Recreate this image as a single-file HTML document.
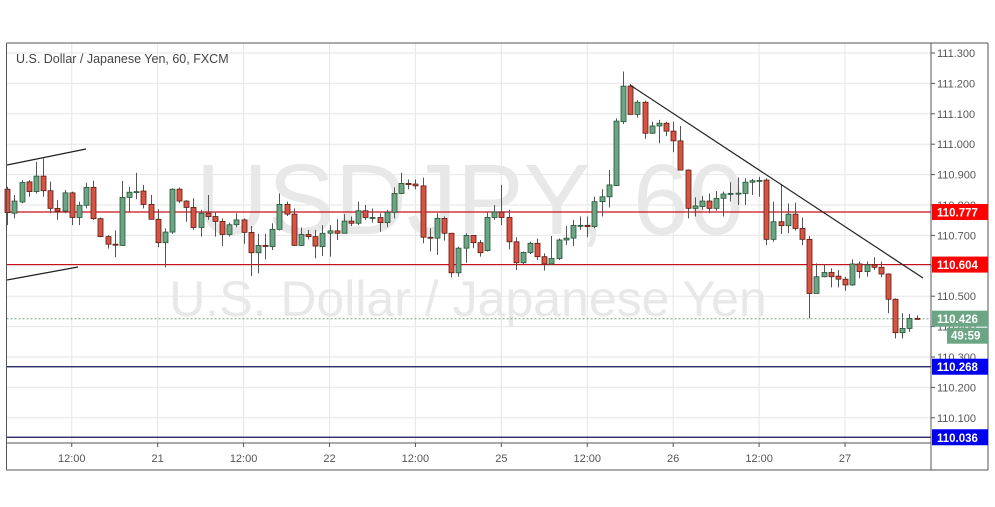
<!DOCTYPE html>
<html><head><meta charset="utf-8"><style>
html,body{margin:0;padding:0;background:#fff;width:995px;height:507px;overflow:hidden}
svg{display:block;font-family:"Liberation Sans",sans-serif}
</style></head><body>
<svg id="chart" width="995" height="507" viewBox="0 0 995 507">
<g id="grid"></g>
<g id="wm">
<text x="470" y="234" font-size="100" fill="#e8e8e8" text-anchor="middle">USDJPY, 60</text>
<text x="468" y="316" font-size="50" fill="#e8e8e8" text-anchor="middle">U.S. Dollar / Japanese Yen</text>
</g>
<g id="levels"></g>
<g id="candles"></g>
<g id="draw"></g>
<g id="axes"></g>
<text x="16" y="63" font-size="12.5" fill="#444">U.S. Dollar / Japanese Yen, 60, FXCM</text>
</svg>
<script>
const opens  =[110.852,110.773,110.810,110.876,110.844,110.895,110.847,110.789,110.780,110.840,110.759,110.799,110.858,110.755,110.696,110.671,110.667,110.825,110.842,110.846,110.802,110.753,110.676,110.711,110.852,110.813,110.792,110.726,110.773,110.762,110.746,110.703,110.735,110.751,110.710,110.643,110.667,110.663,110.720,110.802,110.770,110.667,110.703,110.696,110.663,110.707,110.715,110.707,110.747,110.740,110.781,110.759,110.759,110.742,110.776,110.838,110.871,110.869,110.863,110.694,110.691,110.756,110.707,110.577,110.658,110.700,110.676,110.650,110.759,110.777,110.759,110.679,110.610,110.644,110.674,110.630,110.606,110.624,110.685,110.691,110.733,110.733,110.729,110.811,110.827,110.864,111.074,111.191,111.098,111.138,111.036,111.060,111.069,111.043,111.011,110.915,110.789,110.795,110.813,110.789,110.822,110.838,110.838,110.838,110.875,110.880,110.882,110.687,110.745,110.732,110.770,110.723,110.687,110.509,110.564,110.578,110.566,110.556,110.537,110.606,110.581,110.603,110.595,110.573,110.490,110.380,110.394,110.427];
const closes =[110.775,110.813,110.874,110.844,110.895,110.847,110.789,110.780,110.840,110.759,110.799,110.858,110.755,110.696,110.671,110.670,110.825,110.842,110.844,110.802,110.753,110.676,110.711,110.852,110.813,110.792,110.726,110.773,110.762,110.746,110.703,110.735,110.751,110.710,110.643,110.667,110.666,110.720,110.802,110.770,110.667,110.703,110.696,110.665,110.707,110.715,110.707,110.747,110.740,110.781,110.759,110.759,110.742,110.776,110.838,110.871,110.867,110.863,110.694,110.691,110.756,110.707,110.577,110.658,110.700,110.676,110.643,110.759,110.777,110.759,110.679,110.610,110.644,110.674,110.630,110.606,110.624,110.685,110.691,110.733,110.733,110.729,110.811,110.827,110.866,111.076,111.191,111.098,111.138,111.036,111.060,111.069,111.043,111.011,110.915,110.789,110.797,110.813,110.789,110.822,110.836,110.838,110.839,110.875,110.880,110.881,110.687,110.745,110.732,110.770,110.723,110.687,110.509,110.564,110.578,110.564,110.556,110.537,110.606,110.581,110.603,110.595,110.573,110.490,110.380,110.394,110.427,110.426];
const highs  =[110.860,110.833,110.882,110.882,110.942,110.953,110.877,110.816,110.849,110.844,110.811,110.873,110.880,110.759,110.701,110.716,110.879,110.860,110.906,110.866,110.833,110.786,110.723,110.855,110.857,110.816,110.822,110.784,110.833,110.778,110.756,110.742,110.773,110.756,110.731,110.705,110.705,110.740,110.838,110.811,110.789,110.726,110.718,110.718,110.734,110.734,110.753,110.770,110.762,110.811,110.800,110.789,110.773,110.784,110.858,110.906,110.884,110.884,110.890,110.723,110.773,110.762,110.707,110.663,110.707,110.701,110.685,110.778,110.800,110.866,110.784,110.694,110.647,110.679,110.690,110.641,110.698,110.690,110.731,110.751,110.762,110.762,110.827,110.852,110.915,111.085,111.239,111.198,111.145,111.143,111.074,111.080,111.074,111.074,111.060,110.917,110.825,110.830,110.838,110.846,110.844,110.875,110.891,110.888,110.886,110.893,110.888,110.811,110.869,110.805,110.808,110.759,110.698,110.608,110.606,110.592,110.586,110.564,110.621,110.614,110.614,110.628,110.614,110.575,110.493,110.444,110.441,110.437];
const lows   =[110.734,110.756,110.806,110.827,110.838,110.827,110.773,110.751,110.773,110.734,110.734,110.789,110.751,110.694,110.657,110.628,110.665,110.778,110.819,110.789,110.753,110.661,110.595,110.705,110.806,110.745,110.718,110.696,110.751,110.696,110.665,110.696,110.727,110.672,110.566,110.575,110.621,110.652,110.716,110.764,110.665,110.665,110.687,110.625,110.632,110.630,110.685,110.707,110.731,110.734,110.751,110.742,110.712,110.727,110.756,110.836,110.852,110.852,110.674,110.647,110.636,110.683,110.562,110.564,110.610,110.658,110.630,110.647,110.751,110.734,110.654,110.586,110.606,110.639,110.619,110.584,110.603,110.619,110.668,110.665,110.718,110.694,110.723,110.762,110.792,110.863,111.066,111.098,111.088,111.018,111.034,111.003,111.027,110.974,110.915,110.756,110.762,110.784,110.773,110.781,110.762,110.811,110.800,110.800,110.833,110.827,110.668,110.679,110.704,110.707,110.716,110.668,110.427,110.509,110.562,110.529,110.529,110.518,110.534,110.559,110.564,110.586,110.562,110.444,110.361,110.361,110.383,110.426];
const priceTicks=[111.3,111.2,111.1,111.0,110.9,110.8,110.7,110.6,110.5,110.4,110.3,110.2,110.1];
const timeTickIdx=[9,21,33,45,57,69,81,93,105,117];
const timeTickLabels=["12:00","21","12:00","22","12:00","25","12:00","26","12:00","27"];
const redLevels=[110.777,110.604];
const blueLevels=[110.268,110.036];
const lastPrice=110.426;

const NS="http://www.w3.org/2000/svg";
const L=6.5,R=931,T=43,B=443;
function y(p){return 53+(111.3-p)*304;}
function x(i){return 7.3+i*7.16;}
function mk(parent,tag,attrs){const e=document.createElementNS(NS,tag);for(const k in attrs)e.setAttribute(k,attrs[k]);document.getElementById(parent).appendChild(e);return e;}

// grid
priceTicks.forEach(p=>{const e=mk('grid','line',{x1:L,x2:R,y1:y(p),y2:y(p),stroke:'#e6e6e6','stroke-width':1});

});
timeTickIdx.forEach(i=>{const e=mk('grid','line',{x1:x(i),x2:x(i),y1:T,y2:B,stroke:'#e6e6e6','stroke-width':1});

});

// levels
redLevels.forEach(p=>{const e=mk('levels','line',{x1:L,x2:R,y1:y(p),y2:y(p),stroke:'#c8101a','stroke-width':1.2});

});
blueLevels.forEach(p=>{const e=mk('levels','line',{x1:L,x2:R,y1:y(p),y2:y(p),stroke:'#10105a','stroke-width':1.2});

});
{const e=mk('levels','line',{x1:L,x2:R,y1:y(lastPrice),y2:y(lastPrice),stroke:'#6ba583','stroke-width':1,'stroke-dasharray':'2,2'});

}

// candles
for(let i=0;i<opens.length;i++){
 const o=opens[i],c=closes[i],up=c>=o;
 const fill=up?'#6ba583':'#d75442',stroke=up?'#225437':'#5b1a13';
 const cx=Math.round(x(i))+0.5;
 const w=mk('candles','line',{x1:cx,x2:cx,y1:y(highs[i]),y2:y(lows[i]),stroke:'#555','stroke-width':1});
 
 
 const top=y(Math.max(o,c)),h=Math.max(1,y(Math.min(o,c))-top);
 const b=mk('candles','rect',{x:cx-2.5,y:top,width:5,height:h,fill:fill,stroke:stroke,'stroke-width':0.8});
 
 
}

// trendlines
[[7,165,86,149],[7,280,78,267],[630,85,923,278]].forEach(a=>{const e=mk('draw','line',{x1:a[0],y1:a[1],x2:a[2],y2:a[3],stroke:'#222','stroke-width':1.2});

});

// axes frame
[[L,T,988,T],[L,T,L,470],[L,470,988,470],[988,T,988,470],[R,T,R,470],[L,B,R,B]].forEach(a=>{const e=mk('axes','line',{x1:a[0],y1:a[1],x2:a[2],y2:a[3],stroke:'#555','stroke-width':1});

});
priceTicks.forEach(p=>{
 const t=mk('axes','line',{x1:R,x2:R+4,y1:y(p),y2:y(p),stroke:'#555'});
 
 
 const e=mk('axes','text',{x:937,y:y(p)+4,'font-size':11,fill:'#555'});
 e.textContent=p.toFixed(3);
 
 
});
timeTickIdx.forEach((i,k)=>{
 const t=mk('axes','line',{x1:x(i),x2:x(i),y1:B,y2:B+4,stroke:'#555'});
 
 
 const e=mk('axes','text',{x:x(i),y:462,'font-size':11,fill:'#555','text-anchor':'middle'});
 e.textContent=timeTickLabels[k];
 
 
});
function tag(p,bg,txt,dy){
 const r=mk('axes','rect',{x:R+1,y:y(p)-8+(dy||0),width:56,height:16,fill:bg});
 
 
 const e=mk('axes','text',{x:937,y:y(p)+4.5+(dy||0),'font-size':11.5,'font-weight':'bold',fill:'#fff'});
 e.textContent=txt;
 
 
}
redLevels.forEach(p=>tag(p,'#f00',p.toFixed(3)));
blueLevels.forEach(p=>tag(p,'#0000ee',p.toFixed(3)));
tag(lastPrice,'#6ba583',lastPrice.toFixed(3));
{const r=mk('axes','rect',{x:947,y:y(lastPrice)+9,width:41,height:16,fill:'#6ba583'});


const e=mk('axes','text',{x:951,y:y(lastPrice)+21,'font-size':11.5,'font-weight':'bold',fill:'#fff'});
e.textContent='49:59';

}
</script>
</body></html>
